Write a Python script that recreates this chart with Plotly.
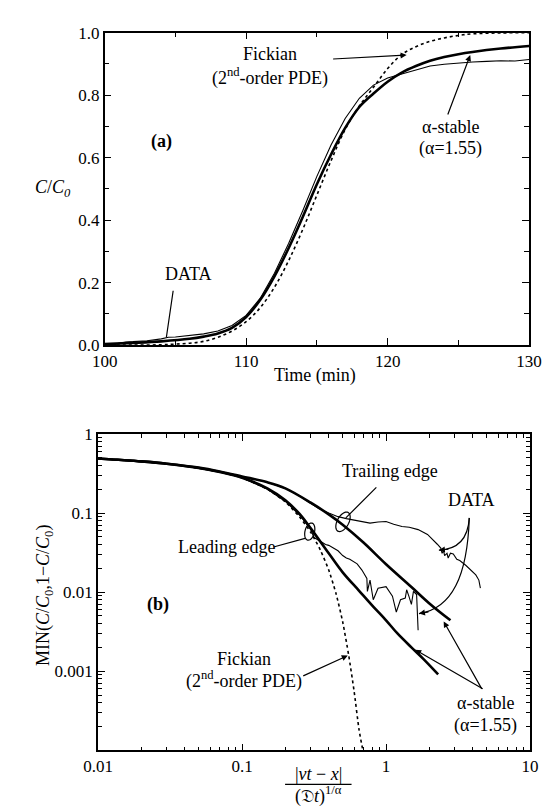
import math
import plotly.graph_objects as go

W, H = 555, 806
FONT = "Liberation Serif"

# ---------------- Panel (a): breakthrough curves ----------------
time_alpha = [100, 102, 104, 106, 107, 108, 109, 110, 111, 112, 113, 114, 115, 116,
              117, 118, 119, 120, 121, 122, 123, 124, 125, 126, 128, 130]
c_alpha = [0.003, 0.007, 0.012, 0.02, 0.027, 0.037, 0.055, 0.09, 0.145, 0.22, 0.31, 0.41,
           0.515, 0.61, 0.695, 0.762, 0.805, 0.843, 0.872, 0.893, 0.91, 0.922, 0.931,
           0.938, 0.949, 0.957]

time_fick = [100, 102, 104, 105, 106, 107, 108, 109, 110, 111, 112, 113, 114, 115, 116,
             117, 118, 119, 120, 121, 122, 123, 124, 125, 126, 128, 130]
c_fick = [0.0, 0.0, 0.001, 0.003, 0.006, 0.012, 0.025, 0.045, 0.075, 0.12, 0.185, 0.27,
          0.37, 0.48, 0.59, 0.69, 0.765, 0.825, 0.885, 0.93, 0.955, 0.972, 0.983, 0.991,
          0.996, 0.999, 1.0]

time_data = [100, 100.5, 101, 101.5, 102, 103, 104, 104.5, 105, 106, 107, 108, 109, 110,
             111, 112, 113, 114, 115, 116, 117, 118, 119, 120, 121, 122, 123, 124, 125,
             126, 127, 128, 129, 130]
c_data = [0.004, 0.0, 0.006, 0.01, 0.011, 0.014, 0.02, 0.025, 0.026, 0.03, 0.036, 0.045,
          0.063, 0.095, 0.15, 0.23, 0.325, 0.43, 0.54, 0.64, 0.725, 0.79, 0.832, 0.855,
          0.868, 0.882, 0.893, 0.899, 0.903, 0.906, 0.908, 0.91, 0.909, 0.914]

# ---------------- Panel (b): log-log tails ----------------
z_alpha_trail = [0.01, 0.02, 0.03, 0.05, 0.07, 0.1, 0.15, 0.2, 0.3, 0.4, 0.5, 0.7, 1.0,
                 1.5, 2.0, 2.8]
m_alpha_trail = [0.49, 0.45, 0.42, 0.375, 0.335, 0.29, 0.245, 0.205, 0.135, 0.096, 0.071,
                 0.042, 0.0225, 0.0116, 0.0072, 0.0044]

z_alpha_lead = [0.01, 0.02, 0.03, 0.05, 0.07, 0.1, 0.15, 0.2, 0.25, 0.3, 0.4, 0.5, 0.65,
                0.8, 1.0, 1.2, 1.5, 1.8, 2.3]
m_alpha_lead = [0.49, 0.45, 0.42, 0.37, 0.33, 0.28, 0.205, 0.145, 0.098, 0.064, 0.031,
                0.0178, 0.0104, 0.0068, 0.0044, 0.003, 0.002, 0.00145, 0.00091]

z_fick = [0.01, 0.02, 0.03, 0.05, 0.07, 0.1, 0.15, 0.2, 0.25, 0.3, 0.35, 0.4, 0.45, 0.5,
          0.55, 0.6, 0.65, 0.69]
m_fick = [0.49, 0.45, 0.42, 0.37, 0.33, 0.278, 0.2, 0.138, 0.09, 0.057, 0.034, 0.019,
          0.0095, 0.0042, 0.0016, 0.00056, 0.00018, 0.0001]

z_data_lead = [0.01, 0.02, 0.03, 0.05, 0.07, 0.1, 0.15, 0.2, 0.25, 0.3, 0.316, 0.35, 0.38,
               0.4, 0.42, 0.45, 0.464, 0.5, 0.53, 0.56, 0.6, 0.63, 0.68, 0.736, 0.742,
               0.774, 0.815, 0.88, 1.0, 1.108, 1.178, 1.26, 1.36, 1.39, 1.44, 1.5, 1.55,
               1.63, 1.67]
m_data_lead = [0.49, 0.45, 0.42, 0.37, 0.33, 0.28, 0.2, 0.14, 0.095, 0.062, 0.049, 0.044,
               0.040, 0.039, 0.037, 0.035, 0.0333, 0.029, 0.027, 0.026, 0.024, 0.0228,
               0.019, 0.0149, 0.0102, 0.0142, 0.008, 0.0112, 0.0117, 0.0089, 0.0056,
               0.008, 0.0084, 0.0107, 0.0089, 0.007, 0.0102, 0.0093, 0.0033]

z_data_trail = [0.01, 0.02, 0.03, 0.05, 0.07, 0.1, 0.15, 0.2, 0.25, 0.3, 0.341, 0.4,
                0.464, 0.53, 0.6, 0.68, 0.774, 0.88, 1.0, 1.13, 1.29, 1.45, 1.67, 1.94,
                2.1, 2.27, 2.4, 2.45, 2.51, 2.55, 2.65, 2.7, 2.8, 2.93, 3.1, 3.25, 3.59,
                3.98, 4.2, 4.41, 4.52]
m_data_trail = [0.49, 0.45, 0.42, 0.375, 0.335, 0.29, 0.245, 0.205, 0.165, 0.132, 0.114,
                0.1, 0.09, 0.085, 0.082, 0.079, 0.0745, 0.077, 0.078, 0.072, 0.0677,
                0.066, 0.0617, 0.0536, 0.047, 0.0403, 0.036, 0.031, 0.0333, 0.029, 0.031,
                0.027, 0.031, 0.0303, 0.026, 0.0251, 0.0217, 0.018, 0.0165, 0.0142, 0.0112]

# tick labels
lin_x_ticks = [100, 110, 120, 130]
log_x_ticks = [0.01, 0.1, 1, 10]
log_x_text = ["0.01", "0.1", "1", "10"]
log_y_ticks = [0.0001, 0.001, 0.01, 0.1, 1]
log_y_text = ["", "0.001", "0.01", "0.1", "1"]

fig = go.Figure()

thick = dict(color="black", width=2.6)
thin = dict(color="black", width=1.1)
dotted = dict(color="black", width=1.6, dash="dot")

# panel (a)
fig.add_trace(go.Scatter(x=time_fick, y=c_fick, mode="lines", line=dict(dotted, shape="spline"), xaxis="x", yaxis="y"))
fig.add_trace(go.Scatter(x=time_alpha, y=c_alpha, mode="lines", line=dict(thick, shape="spline"), xaxis="x", yaxis="y"))
fig.add_trace(go.Scatter(x=time_data, y=c_data, mode="lines", line=thin, xaxis="x", yaxis="y"))

# panel (b)
fig.add_trace(go.Scatter(x=z_fick, y=m_fick, mode="lines", line=dict(dotted, shape="spline", smoothing=0.6), xaxis="x2", yaxis="y2"))
fig.add_trace(go.Scatter(x=z_alpha_trail, y=m_alpha_trail, mode="lines", line=dict(thick, shape="spline"), xaxis="x2", yaxis="y2"))
fig.add_trace(go.Scatter(x=z_alpha_lead, y=m_alpha_lead, mode="lines", line=dict(thick, shape="spline"), xaxis="x2", yaxis="y2"))
fig.add_trace(go.Scatter(x=z_data_trail, y=m_data_trail, mode="lines", line=thin, xaxis="x2", yaxis="y2"))
fig.add_trace(go.Scatter(x=z_data_lead, y=m_data_lead, mode="lines", line=thin, xaxis="x2", yaxis="y2"))


def P(px, py):
    return px / W, 1 - py / H


def txt(t, px, py, size=18, **kw):
    x, y = P(px, py)
    d = dict(x=x, y=y, xref="paper", yref="paper", text=t, showarrow=False,
             font=dict(family=FONT, size=size, color="black"),
             xanchor="center", yanchor="middle")
    d.update(kw)
    return d


def arrow(hx, hy, tx, ty, head=2, width=1.2):
    x, y = P(hx, hy)
    return dict(x=x, y=y, xref="paper", yref="paper", ax=tx - hx, ay=ty - hy,
                axref="pixel", ayref="pixel", text="", showarrow=True,
                arrowhead=head, arrowsize=1, arrowwidth=width, arrowcolor="black",
                standoff=0, startstandoff=0)


def ppath(points, cmd):
    out = []
    for c, pts in zip(cmd, points):
        s = " ".join("%.5f,%.5f" % P(px, py) for px, py in pts)
        out.append(c + " " + s)
    return " ".join(out)


def ellipse_path(cx, cy, a, b, ang_deg, n=40):
    ang = math.radians(ang_deg)
    pts = []
    for i in range(n + 1):
        t = 2 * math.pi * i / n
        ex, ey = a * math.cos(t), b * math.sin(t)
        px = cx + ex * math.cos(ang) - ey * math.sin(ang)
        py = cy + ex * math.sin(ang) + ey * math.cos(ang)
        pts.append("%.5f,%.5f" % P(px, py))
    return "M " + " L ".join(pts) + " Z"


annotations = [
    # panel (a)
    txt("Fickian", 260, 38),
    txt("(2<sup>nd</sup>-order PDE)", 260, 61),
    arrow(404, 39, 329, 43),
    txt("α-stable", 450, 113),
    txt("(α=1.55)", 450, 135),
    arrow(471, 39, 448, 100),
    txt("<b>(a)</b>", 146, 128),
    txt("DATA", 174, 263),
    arrow(151, 328, 158, 280, head=0),
    txt("<i>C</i>/<i>C</i><sub><i>0</i></sub>", 32, 176),
    txt("Time (min)", 307, 367),
    # panel (b)
    txt("Trailing edge", 386, 465),
    arrow(340, 513, 372, 481, head=0),
    txt("DATA", 472, 495),
    txt("Leading edge", 214, 543),
    arrow(297, 534, 264, 543, head=0),
    txt("<b>(b)</b>", 142, 602),
    txt("Fickian", 233, 657),
    txt("(2<sup>nd</sup>-order PDE)", 233, 679),
    arrow(342, 654, 296, 675),
    txt("α-stable", 487, 703),
    txt("(α=1.55)", 487, 726),
    arrow(443, 619, 482, 688),
    arrow(413, 648, 482, 688),
    arrow(438, 546, 449, 545),
    arrow(417, 611, 428, 609),
    txt("MIN(<i>C</i>/<i>C</i><sub>0</sub>,1−<i>C</i>/<i>C</i><sub>0</sub>)", 22, 592,
        textangle=-90),
    txt("|<i>vt</i> − <i>x</i>|", 311, 775),
    txt("(𝔇<i>t</i>)<sup>1/α</sup>", 311, 797),
]

shapes = [
    dict(type="path", xref="paper", yref="paper",
         path=ppath([[(470, 513)], [(468, 545), (438, 546)]], ["M", "Q"]),
         line=dict(color="black", width=1.2)),
    dict(type="path", xref="paper", yref="paper",
         path=ppath([[(470, 513)], [(468, 572), (452, 606), (417, 611)]], ["M", "C"]),
         line=dict(color="black", width=1.2)),
    dict(type="path", xref="paper", yref="paper", path=ellipse_path(302, 527, 5, 9, 15),
         line=dict(color="black", width=1.2)),
    dict(type="path", xref="paper", yref="paper", path=ellipse_path(337, 517, 6, 11, 30),
         line=dict(color="black", width=1.2)),
    dict(type="line", xref="paper", yref="paper",
         x0=P(276, 786)[0], x1=P(346, 786)[0], y0=P(276, 786)[1], y1=P(346, 786)[1],
         line=dict(color="black", width=1.2)),
]

tickfont = dict(family=FONT, size=17, color="black")
common = dict(showline=True, linecolor="black", linewidth=1.5, mirror="allticks",
              ticks="inside", ticklen=7, tickwidth=1.2, tickcolor="black",
              showgrid=False, zeroline=False, tickfont=tickfont)

minor_x = [m * 10 ** e for e in range(-2, 1) for m in range(2, 10)]
minor_y = [m * 10 ** e for e in range(-4, 0) for m in range(2, 10)]

fig.update_layout(
    width=W, height=H, autosize=False,
    margin=dict(l=0, r=0, t=0, b=0),
    paper_bgcolor="white", plot_bgcolor="white", showlegend=False,
    xaxis=dict(domain=[86 / W, 533 / W], range=[100, 130], anchor="y",
               tickvals=lin_x_ticks,
               minor=dict(dtick=5, tick0=100, ticks="inside", ticklen=5, tickcolor="black"),
               **common),
    yaxis=dict(domain=[1 - 336 / H, 1 - 16 / H], range=[0, 1], anchor="x",
               dtick=0.2, tickformat=".1f",
               minor=dict(dtick=0.1, ticks="inside", ticklen=5, tickcolor="black"),
               **common),
    xaxis2=dict(domain=[79 / W, 534 / W], type="log", range=[-2, 1], anchor="y2",
                tickvals=log_x_ticks, ticktext=log_x_text,
                minor=dict(tickvals=minor_x, ticks="inside", ticklen=4, tickcolor="black"),
                **common),
    yaxis2=dict(domain=[1 - 751 / H, 1 - 427 / H], type="log", range=[-4, 0], anchor="x2",
                tickvals=log_y_ticks, ticktext=log_y_text,
                minor=dict(tickvals=minor_y, ticks="inside", ticklen=4, tickcolor="black"),
                **common),
    annotations=annotations,
    shapes=shapes,
    font=dict(family=FONT, color="black"),
)

fig.write_html("out.html")
